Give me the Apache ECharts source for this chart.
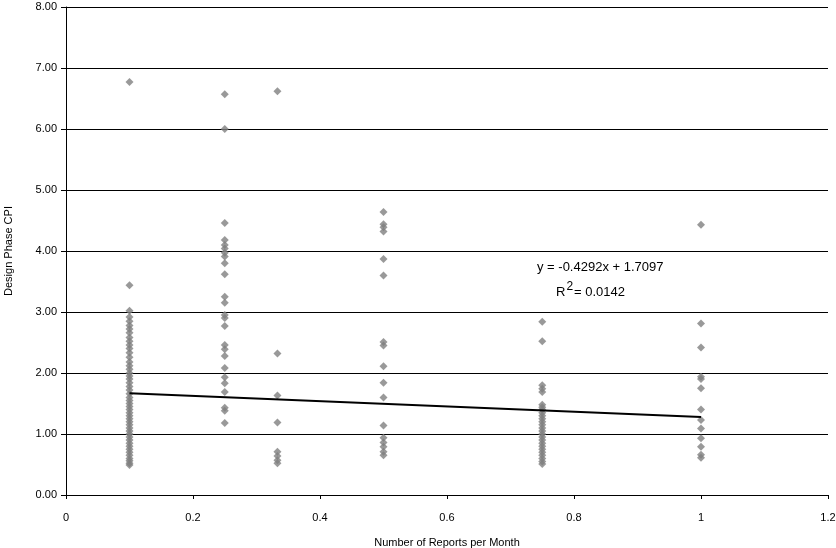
<!DOCTYPE html>
<html>
<head>
<meta charset="utf-8">
<script src="https://cdn.jsdelivr.net/npm/echarts@6/dist/echarts.min.js"></script>
<style>
html, body { margin: 0; padding: 0; background: #fff; }
#chart { width: 836px; height: 548px; }
</style>
</head>
<body>
<div id="chart"></div>
<script>
// CPI values, one array per reports-per-month column
var cpiAt010 = [6.77, 3.44, 3.02, 2.92, 2.85, 2.78, 2.72, 2.66, 2.58, 2.52, 2.46, 2.40, 2.33, 2.26, 2.18, 2.12, 2.06,
    2.00, 1.95, 1.90, 1.84, 1.78, 1.72, 1.66, 1.60, 1.55, 1.50, 1.45, 1.40, 1.35, 1.30, 1.25, 1.20, 1.15,
    1.10, 1.05, 1.00, 0.95, 0.90, 0.85, 0.80, 0.75, 0.70, 0.65, 0.60, 0.56, 0.52, 0.49];
var cpiAt025 = [6.57, 6.00, 4.46, 4.18, 4.10, 4.04, 3.97, 3.91, 3.80, 3.62, 3.25, 3.15, 2.95, 2.90, 2.77,
    2.46, 2.39, 2.28, 2.08, 1.93, 1.83, 1.69, 1.43, 1.38, 1.18];
var cpiAt033 = [6.62, 2.32, 1.63, 1.19, 0.71, 0.64, 0.57, 0.52];
var cpiAt050 = [4.64, 4.44, 4.39, 4.32, 3.87, 3.60, 2.51, 2.45, 2.11, 1.84, 1.60, 1.14, 0.94, 0.86, 0.79, 0.71, 0.65];
var cpiAt075 = [2.84, 2.52, 1.80, 1.74, 1.69, 1.48, 1.44, 1.40, 1.35, 1.30, 1.25, 1.20, 1.15, 1.10, 1.05, 1.00,
    0.95, 0.90, 0.85, 0.80, 0.75, 0.70, 0.65, 0.60, 0.55, 0.51];
var cpiAt100 = [4.43, 2.81, 2.42, 1.94, 1.90, 1.75, 1.40, 1.23, 1.09, 0.93, 0.79, 0.66, 0.61];

var reportsPerMonth = [0.1, 0.25, 0.333, 0.5, 0.75, 1];
var cpiColumns = [cpiAt010, cpiAt025, cpiAt033, cpiAt050, cpiAt075, cpiAt100];

// linear trend y = -0.4292x + 1.7097, end points
var trendX = [0.1, 1];
var trendY = [1.6668, 1.2805];

var points = [];
reportsPerMonth.forEach(function(x, i) {
    cpiColumns[i].forEach(function(y) {
        points.push([x, y]);
    });
});
var trend = trendX.map(function(x, i) { return [x, trendY[i]]; });

var font = '"Liberation Sans", Arial, sans-serif';
var chart = echarts.init(document.getElementById('chart'));

chart.setOption({
    animation: false,
    textStyle: { fontFamily: font },
    grid: { left: 66, right: 8, top: 7, bottom: 53, outerBoundsMode: 'none', containLabel: false },
    xAxis: {
        type: 'value',
        min: 0,
        max: 1.2,
        interval: 0.2,
        name: 'Number of Reports per Month',
        nameLocation: 'middle',
        nameGap: 42,
        nameTextStyle: { fontSize: 11, color: '#000', fontFamily: font },
        axisLine: { lineStyle: { color: '#000', width: 1 } },
        axisTick: { show: true, length: 4, lineStyle: { color: '#000' } },
        axisLabel: {
            color: '#000', fontSize: 11, margin: 17, fontFamily: font,
            formatter: function(v) { return String(Math.round(v * 10) / 10); }
        },
        splitLine: { show: false }
    },
    yAxis: {
        type: 'value',
        min: 0,
        max: 8,
        interval: 1,
        name: 'Design Phase CPI',
        nameLocation: 'middle',
        nameGap: 52,
        nameTextStyle: { fontSize: 11, color: '#000', fontFamily: font },
        axisLine: { show: true, lineStyle: { color: '#000', width: 1 } },
        axisTick: { show: true, length: 5, lineStyle: { color: '#000' } },
        axisLabel: {
            color: '#000', fontSize: 11, margin: 9, fontFamily: font,
            formatter: function(v) { return v.toFixed(2); }
        },
        splitLine: { show: true, lineStyle: { color: '#000', width: 1 } }
    },
    series: [{
        name: 'CPI',
        type: 'scatter',
        symbol: 'diamond',
        symbolSize: 8,
        itemStyle: { color: '#808080' },
        data: points
    }, {
        name: 'Linear trend',
        type: 'line',
        symbol: 'none',
        lineStyle: { color: '#000', width: 2 },
        data: trend
    }],
    graphic: [{
        type: 'text',
        left: 537,
        top: 261,
        style: {
            text: 'y = -0.4292x + 1.7097',
            font: '13px ' + font,
            fill: '#000'
        }
    }, {
        type: 'text',
        left: 556,
        top: 281,
        style: {
            text: '{a|R}{s|2}{a|= 0.0142}',
            fill: '#000',
            rich: {
                a: { fontSize: 13, fontFamily: font, lineHeight: 18, verticalAlign: 'bottom' },
                s: { fontSize: 12, fontFamily: font, lineHeight: 18, verticalAlign: 'top', padding: [0, 1, 0, 1] }
            }
        }
    }]
});
</script>
</body>
</html>
